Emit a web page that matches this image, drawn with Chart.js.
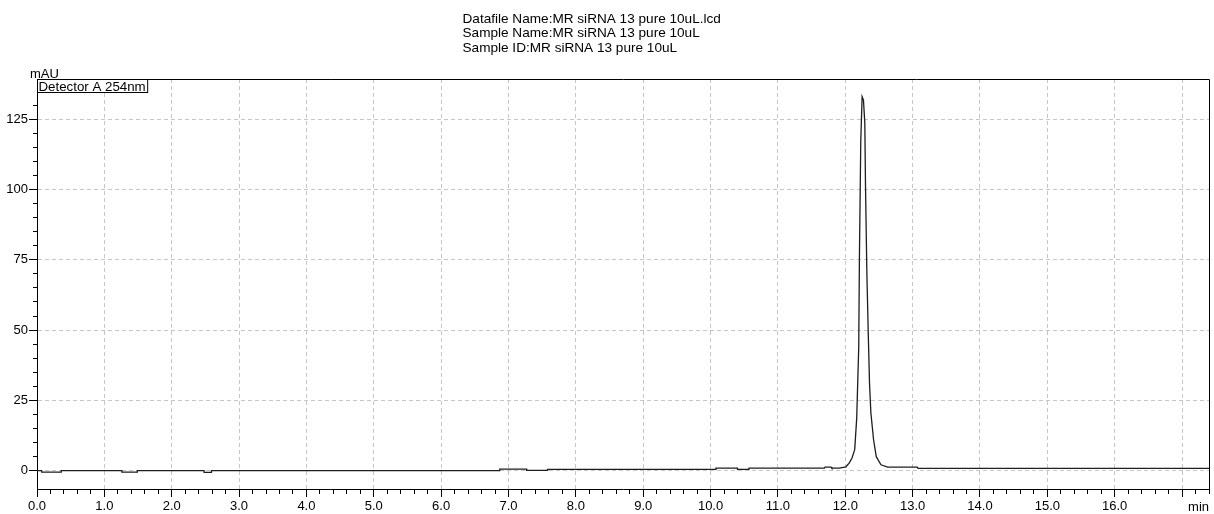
<!DOCTYPE html>
<html>
<head>
<meta charset="utf-8">
<title>MR siRNA 13 pure 10uL</title>
<script src="https://cdn.jsdelivr.net/npm/chart.js@4.4.1/dist/chart.umd.min.js"></script>
<style>
  html, body { margin: 0; padding: 0; background: #fff; }
  #wrap { width: 1214px; height: 514px; }
</style>
</head>
<body>
<div id="wrap"><canvas id="myChart" width="1214" height="514"></canvas></div>
<script>
// header lines
var headerLines = [
    'Datafile Name:MR siRNA 13 pure 10uL.lcd',
    'Sample Name:MR siRNA 13 pure 10uL',
    'Sample ID:MR siRNA 13 pure 10uL'
];
var detectorName = 'Detector A 254nm';
var yUnit = 'mAU';
var xUnit = 'min';

// trace (retention time in min, signal in mAU)
var times = [
    0.00, 0.07, 0.07, 0.36, 0.36, 1.26, 1.26, 1.49, 1.49, 2.48, 2.48, 2.59, 2.59,
    6.87, 6.87, 7.27, 7.27, 7.58, 7.58, 10.08, 10.08, 10.40, 10.40, 10.57, 10.57,
    11.69, 11.70, 11.79, 11.80, 11.91, 12.01, 12.06, 12.10, 12.14, 12.17, 12.20,
    12.21, 12.23, 12.25, 12.27, 12.29, 12.30, 12.32, 12.34, 12.36, 12.38, 12.42,
    12.46, 12.53, 12.63, 13.07, 13.08, 17.40
];
var mAU = [
    0.0, 0.0, -0.5, -0.5, 0.0, 0.0, -0.5, -0.5, 0.0, 0.0, -0.6, -0.6, 0.0,
    0.0, 0.6, 0.6, 0.1, 0.1, 0.45, 0.45, 0.9, 0.9, 0.5, 0.5, 0.9,
    0.9, 1.3, 1.3, 0.9, 0.9, 1.4, 2.8, 4.5, 7.5, 18.8, 44,
    76, 117, 133, 131.8, 123.7, 102, 71, 50, 31, 20.6, 11,
    5, 2.1, 1.3, 1.3, 0.8, 0.8
];

// axis ranges / ticks
var xMin = 0, xMax = 17.4, xStep = 0.2, xMajor = 1;
var yMin = -6.5, yMax = 139.3, yStep = 5, yMajor = 25;

var FONT = '"Liberation Sans", Arial, sans-serif';

function isMult(v, m) {
    var r = v / m;
    return Math.abs(r - Math.round(r)) < 1e-6;
}

var points = times.map(function (t, i) { return { x: t, y: mAU[i] }; });

// extra texts + top/right frame
var extras = {
    id: 'extras',
    afterDraw: function (chart) {
        var c = chart.ctx;
        var a = chart.chartArea;
        c.save();
        // frame top + right
        c.strokeStyle = '#000';
        c.lineWidth = 1;
        c.beginPath();
        c.moveTo(a.left, a.top + 0.5);
        c.lineTo(a.right + 0.5, a.top + 0.5);
        c.lineTo(a.right + 0.5, a.bottom);
        c.stroke();

        c.fillStyle = '#000';
        c.textAlign = 'left';
        c.textBaseline = 'alphabetic';
        c.font = '13.6px ' + FONT;
        for (var i = 0; i < headerLines.length; i++) {
            c.fillText(headerLines[i], 462.5, 22.7 + i * 14.5);
        }
        c.font = '13px ' + FONT;
        c.fillText(yUnit, 30, 77.5);

        // detector box
        c.font = '13.3px ' + FONT;
        var w = c.measureText(detectorName).width;
        c.fillStyle = '#fff';
        c.fillRect(a.left, a.top, w + 3, 13);
        c.strokeRect(a.left + 0.5, a.top + 0.5, w + 3, 13);
        c.fillStyle = '#000';
        c.fillText(detectorName, a.left + 1.5, a.top + 11.5);

        c.font = '13px ' + FONT;
        c.textAlign = 'right';
        c.fillText(xUnit, a.right, 511);
        c.restore();
    }
};

var ctx = document.getElementById('myChart');

new Chart(ctx, {
    type: 'line',
    data: {
        datasets: [{
            data: points,
            borderColor: '#1e1e1e',
            borderWidth: 1.3,
            pointRadius: 0,
            tension: 0,
            fill: false
        }]
    },
    options: {
        responsive: false,
        animation: false,
        layout: { padding: { left: 0, top: 79, right: 5, bottom: 0 } },
        plugins: {
            legend: { display: false },
            tooltip: { enabled: false }
        },
        scales: {
            x: {
                type: 'linear',
                min: xMin,
                max: xMax,
                afterFit: function (s) { s.height = 25; },
                ticks: {
                    stepSize: xStep,
                    autoSkip: false,
                    maxTicksLimit: 200,
                    maxRotation: 0,
                    padding: 2,
                    color: '#000',
                    font: { family: FONT, size: 13 },
                    callback: function (v) {
                        return (isMult(v, xMajor) && v < 16.5) ? v.toFixed(1) : '';
                    }
                },
                grid: {
                    color: function (c) {
                        return isMult(c.tick.value, xMajor) ? '#c6c6c6' : 'rgba(0,0,0,0)';
                    },
                    tickColor: '#000',
                    tickLength: 8,
                    tickBorderDash: function (c) {
                        return isMult(c.tick.value, xMajor) ? [] : [4, 40];
                    }
                },
                border: { display: true, color: '#000', width: 1, dash: [4, 3] }
            },
            y: {
                min: yMin,
                max: yMax,
                afterFit: function (s) { s.width = 37; },
                ticks: {
                    stepSize: yStep,
                    autoSkip: false,
                    maxTicksLimit: 200,
                    padding: 1,
                    color: '#000',
                    font: { family: FONT, size: 13 },
                    callback: function (v) {
                        return (isMult(v, yMajor) && v >= 0) ? String(v) : '';
                    }
                },
                grid: {
                    color: function (c) {
                        return isMult(c.tick.value, yMajor) ? '#c6c6c6' : 'rgba(0,0,0,0)';
                    },
                    tickColor: function (c) {
                        return isMult(c.tick.value, yStep) ? '#000' : 'rgba(0,0,0,0)';
                    },
                    tickLength: 8,
                    tickBorderDash: function (c) {
                        return isMult(c.tick.value, yMajor) ? [] : [0, 4, 4, 40];
                    }
                },
                border: { display: true, color: '#000', width: 1, dash: [4, 3] }
            }
        }
    },
    plugins: [extras]
});
</script>
</body>
</html>
